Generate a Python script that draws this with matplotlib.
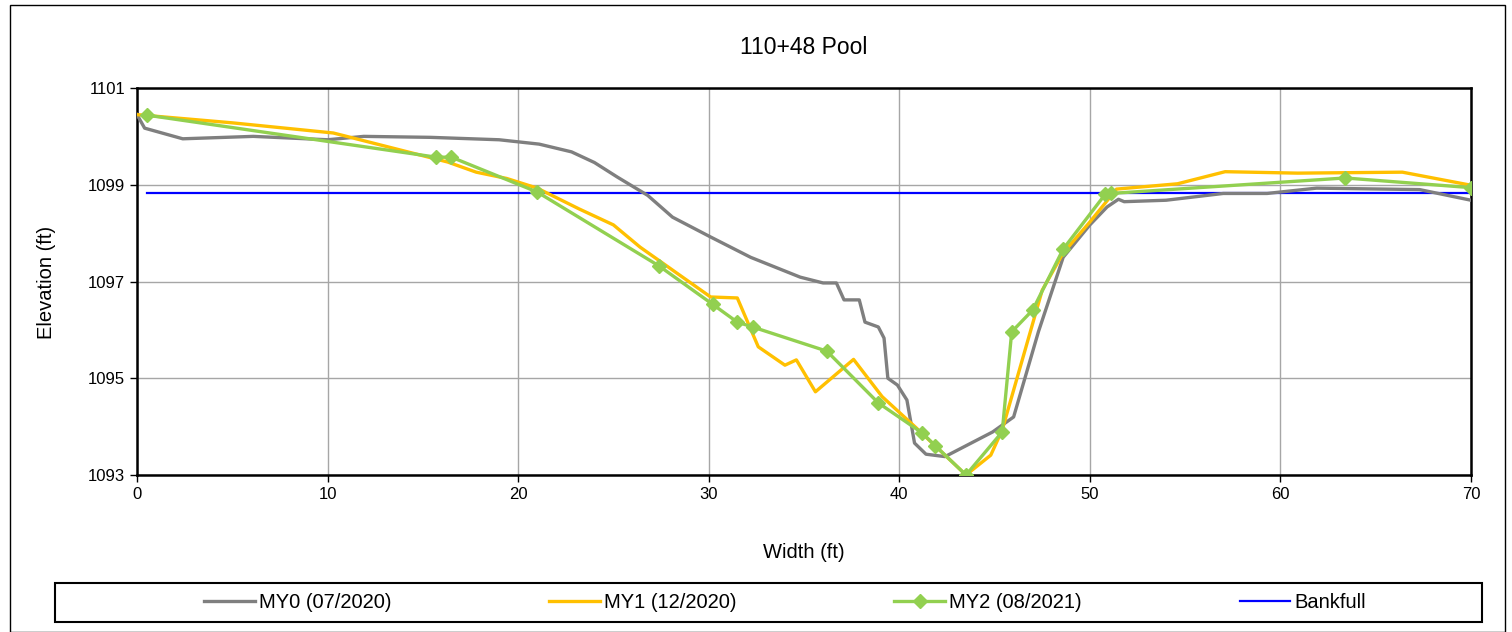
import matplotlib.pyplot as plt
from matplotlib.patches import Rectangle

# Survey data

my0_x = [0, 0.4, 2.4, 6.1, 10.0, 11.9, 15.4, 19.0, 21.1, 22.8, 24.0, 25.2, 26.8, 28.1, 30.1,
         32.2, 34.8, 36.0, 36.7, 37.1, 37.9, 38.2, 38.9, 39.2, 39.4, 39.9, 40.4, 40.8, 41.4,
         42.4, 44.9, 46.0, 47.3, 48.6, 50.0, 50.9, 51.5, 51.8, 54.0, 57.0, 59.3, 61.9, 67.3, 70.0]
my0_y = [1100.45, 1100.17, 1099.95, 1100.0, 1099.93, 1100.0, 1099.98, 1099.93, 1099.84, 1099.68,
         1099.46, 1099.16, 1098.78, 1098.33, 1097.92, 1097.5, 1097.09, 1096.97, 1096.97, 1096.62,
         1096.62, 1096.16, 1096.06, 1095.83, 1095.0, 1094.86, 1094.55, 1093.66, 1093.43, 1093.38,
         1093.89, 1094.2, 1095.96, 1097.5, 1098.17, 1098.54, 1098.7, 1098.65, 1098.68, 1098.82,
         1098.82, 1098.93, 1098.9, 1098.68]

my1_x = [0, 5.0, 10.3, 16.3, 17.8, 19.4, 21.0, 23.2, 25.0, 26.4, 30.1, 31.5, 32.6, 34.0, 34.6,
         35.6, 37.6, 39.1, 40.9, 43.5, 44.8, 45.4, 47.5, 48.6, 50.0, 51.4, 54.6, 57.1, 60.9, 66.4, 70.0]
my1_y = [1100.45, 1100.28, 1100.07, 1099.47, 1099.26, 1099.13, 1098.93, 1098.5, 1098.17, 1097.71,
         1096.68, 1096.66, 1095.65, 1095.27, 1095.38, 1094.72, 1095.39, 1094.62, 1093.97, 1093.0,
         1093.41, 1093.93, 1096.82, 1097.59, 1098.23, 1098.91, 1099.02, 1099.27, 1099.24, 1099.26,
         1098.99]

my2_x = [0.5, 15.7, 16.5, 21.0, 27.4, 30.2, 31.5, 32.3, 36.2, 38.9, 41.2, 41.9, 43.5, 45.4,
         45.9, 47.0, 48.6, 50.8, 51.1, 63.4, 70.0]
my2_y = [1100.44, 1099.57, 1099.57, 1098.85, 1097.32, 1096.53, 1096.16, 1096.06, 1095.56,
         1094.49, 1093.87, 1093.6, 1093.0, 1093.89, 1095.96, 1096.41, 1097.67, 1098.8, 1098.82,
         1099.14, 1098.94]

bankfull_x = [0.5, 70.0]
bankfull_y = [1098.83, 1098.83]

x_ticks = [0, 10, 20, 30, 40, 50, 60, 70]
y_ticks = [1093, 1095, 1097, 1099, 1101]

# ------------------------------------------------------------------------------------------------------

plt.rcParams['font.family'] = ['Liberation Sans', 'DejaVu Sans']

W, H = 1512, 632
fig = plt.figure(figsize=(W / 100, H / 100), dpi=100)
ax = fig.add_axes([137 / W, 1 - 475 / H, (1471 - 137) / W, (475 - 88) / H])

ax.plot(my0_x, my0_y, color='#7f7f7f', linewidth=2.4, label='MY0 (07/2020)', zorder=3)
ax.plot(my1_x, my1_y, color='#ffc000', linewidth=2.4, label='MY1 (12/2020)', zorder=4)
ax.plot(my2_x, my2_y, color='#92d050', linewidth=2.4, marker='D', markersize=7,
        label='MY2 (08/2021)', zorder=5)
ax.plot(bankfull_x, bankfull_y, color='#0000ff', linewidth=1.6, label='Bankfull', zorder=2)

ax.set_xlim(0, 70)
ax.set_ylim(1093, 1101)
ax.set_xticks(x_ticks)
ax.set_yticks(y_ticks)
ax.tick_params(labelsize=12, direction='out', length=5, width=1)
ax.grid(True, color='#a6a6a6', linewidth=1)
ax.set_axisbelow(True)
for side in ax.spines:
    ax.spines[side].set_linewidth(1.8)

# title and axis labels placed in figure pixels
fig.text(804 / W, 1 - 48 / H, '110+48 Pool', fontsize=16.5, ha='center', va='center')
fig.text(804 / W, 1 - 552 / H, 'Width (ft)', fontsize=14.5, ha='center', va='center')
fig.text(46 / W, 1 - 282 / H, 'Elevation (ft)', fontsize=14.5, ha='center', va='center',
         rotation=90)

leg = fig.legend(loc='center', bbox_to_anchor=(785 / W, 1 - 603 / H), ncols=4, fontsize=14.5,
                 frameon=False, handlelength=2.5, handletextpad=0.2, columnspacing=7.85,
                 borderaxespad=0)

# legend box
fig.patches.append(Rectangle((55 / W, 1 - 622 / H), (1482 - 55) / W, 39 / H,
                             transform=fig.transFigure, fill=False, edgecolor='black', linewidth=1.5))

# outer chart border
fig.patches.append(Rectangle((10 / W, 0), (1505 - 10) / W, 1 - 5 / H,
                             transform=fig.transFigure, fill=False, edgecolor='black', linewidth=1))

plt.savefig('out.png', dpi=100)
